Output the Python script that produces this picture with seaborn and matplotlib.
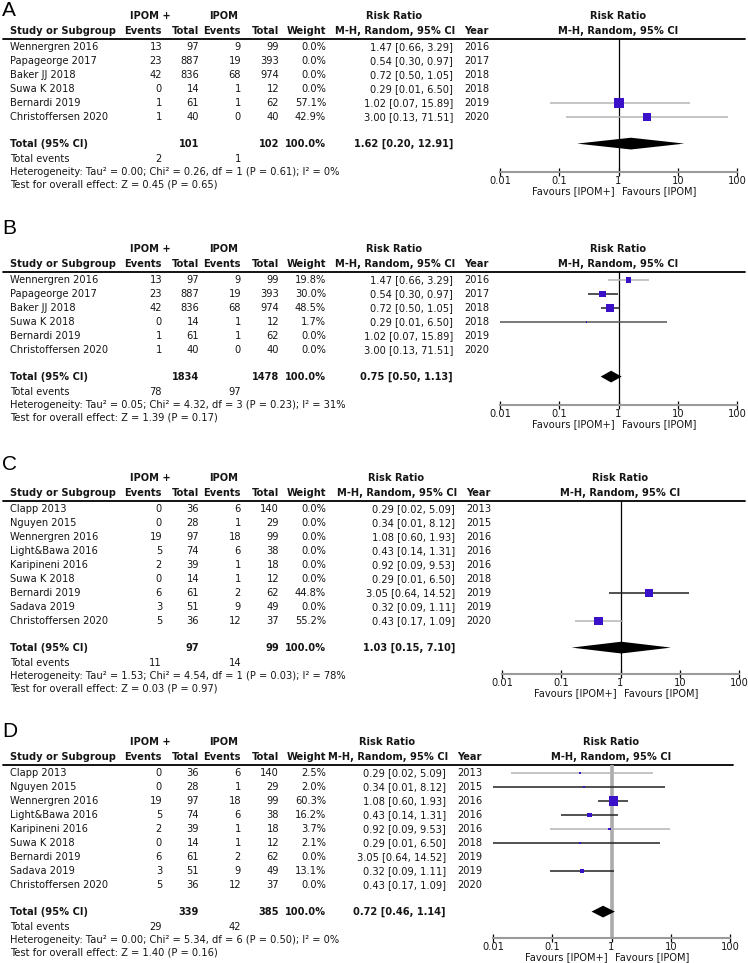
import numpy as np
import pandas as pd
import matplotlib
matplotlib.use("Agg")
import matplotlib.pyplot as plt
import seaborn as sns

# Studies shared by panels A and B
studies_ab = ["Wennergren 2016", "Papageorge 2017", "Baker JJ 2018", "Suwa K 2018",
              "Bernardi 2019", "Christoffersen 2020"]
years_ab = [2016, 2017, 2018, 2018, 2019, 2020]
ev_plus_ab = [13, 23, 42, 0, 1, 1]
n_plus_ab = [97, 887, 836, 14, 61, 40]
ev_ipom_ab = [9, 19, 68, 1, 1, 0]
n_ipom_ab = [99, 393, 974, 12, 62, 40]
rr_ab = [1.47, 0.54, 0.72, 0.29, 1.02, 3.00]
lo_ab = [0.66, 0.30, 0.50, 0.01, 0.07, 0.13]
hi_ab = [3.29, 0.97, 1.05, 6.50, 15.89, 71.51]
weight_a = [0.0, 0.0, 0.0, 0.0, 57.1, 42.9]
weight_b = [19.8, 30.0, 48.5, 1.7, 0.0, 0.0]

# Studies shared by panels C and D
studies_cd = ["Clapp 2013", "Nguyen 2015", "Wennergren 2016", "Light&Bawa 2016",
              "Karipineni 2016", "Suwa K 2018", "Bernardi 2019", "Sadava 2019",
              "Christoffersen 2020"]
years_cd = [2013, 2015, 2016, 2016, 2016, 2018, 2019, 2019, 2020]
ev_plus_cd = [0, 0, 19, 5, 2, 0, 6, 3, 5]
n_plus_cd = [36, 28, 97, 74, 39, 14, 61, 51, 36]
ev_ipom_cd = [6, 1, 18, 6, 1, 1, 2, 9, 12]
n_ipom_cd = [140, 29, 99, 38, 18, 12, 62, 49, 37]
rr_cd = [0.29, 0.34, 1.08, 0.43, 0.92, 0.29, 3.05, 0.32, 0.43]
lo_cd = [0.02, 0.01, 0.60, 0.14, 0.09, 0.01, 0.64, 0.09, 0.17]
hi_cd = [5.09, 8.12, 1.93, 1.31, 9.53, 6.50, 14.52, 1.11, 1.09]
weight_c = [0.0, 0.0, 0.0, 0.0, 0.0, 0.0, 44.8, 0.0, 55.2]
weight_d = [2.5, 2.0, 60.3, 16.2, 3.7, 2.1, 0.0, 13.1, 0.0]

# Pooled results, panels A-D
panel_labels = ["A", "B", "C", "D"]
total_n_plus = [101, 1834, 97, 339]
total_n_ipom = [102, 1478, 99, 385]
total_ev_plus = [2, 78, 11, 29]
total_ev_ipom = [1, 97, 14, 42]
total_rr = [1.62, 0.75, 1.03, 0.72]
total_lo = [0.20, 0.50, 0.15, 0.46]
total_hi = [12.91, 1.13, 7.10, 1.14]
tau2 = [0.00, 0.05, 1.53, 0.00]
chi2 = [0.26, 4.32, 4.54, 5.34]
dfree = [1, 3, 1, 6]
p_het = [0.61, 0.23, 0.03, 0.50]
i2 = [0, 31, 78, 0]
z_val = [0.45, 1.39, 0.03, 1.40]
p_z = [0.65, 0.17, 0.97, 0.16]

# layout (pixels)
W, H = 748, 963
RS = 14
ROW0 = [47, 280, 509, 773]
LETTER_BASE = [16, 234, 470, 737]
DX = [0, 0, 2, -7]
AXIS_GAP = [28, 28, 26, 26]
SQ = "#3a10c8"
LG, DG = "#b4b4b4", "#222222"
CI_SHADE = [
    [DG, DG, DG, DG, LG, LG],
    [LG, DG, DG, "#555555", DG, DG],
    [DG] * 6 + [DG, DG, LG],
    [LG, DG, DG, DG, LG, DG, DG, DG, DG],
]

sns.set_theme(style="white")
plt.rcParams["font.family"] = ["DejaVu Sans"]
FS = 7.1
TXT = "#151515"

fig = plt.figure(figsize=(W / 100, H / 100), dpi=100)
bg = fig.add_axes([0, 0, 1, 1])
bg.set_xlim(0, W)
bg.set_ylim(H, 0)
bg.axis("off")


def t(x, y, s, ha="left", bold=False, size=FS):
    bg.text(x, y, s, ha=ha, va="center", fontsize=size, color=TXT,
            fontweight="bold" if bold else "normal")


def draw_panel(k, studies, years, ev1, n1, ev2, n2, rr, lo, hi, weight):
    r0 = ROW0[k]
    dx = DX[k]
    n = len(studies)
    line_y = r0 - 8
    total_y = r0 + (n + 0.9) * RS
    axis_y = total_y + AXIS_GAP[k]
    rr_x = 453 + dx
    yr_x = 464 + dx
    fx0, fx1 = 500 + dx, 737 + dx
    one_x = (fx0 + fx1) / 2

    bg.text(2, LETTER_BASE[k], panel_labels[k], ha="left", va="baseline", fontsize=15,
            family="Liberation Sans", color="black")

    # headers
    t(130, r0 - 31, "IPOM +", bold=True)
    t(209, r0 - 31, "IPOM", bold=True)
    t(394 + dx, r0 - 31, "Risk Ratio", ha="center", bold=True)
    t(one_x, r0 - 31, "Risk Ratio", ha="center", bold=True)
    t(10, r0 - 16, "Study or Subgroup", bold=True)
    for x, s in [(162, "Events"), (199, "Total"), (241, "Events"), (279, "Total"),
                 (326, "Weight"), (rr_x + 2, "M-H, Random, 95% CI")]:
        t(x, r0 - 16, s, ha="right", bold=True)
    t(yr_x, r0 - 16, "Year", bold=True)
    t(one_x, r0 - 16, "M-H, Random, 95% CI", ha="center", bold=True)
    bg.plot([3, 745 if k < 3 else 733], [line_y, line_y], color="black", lw=1.3)

    # study rows
    for i in range(n):
        y = r0 + i * RS
        t(10, y, studies[i])
        t(162, y, str(ev1[i]), ha="right")
        t(199, y, str(n1[i]), ha="right")
        t(241, y, str(ev2[i]), ha="right")
        t(279, y, str(n2[i]), ha="right")
        t(326, y, f"{weight[i]:.1f}%", ha="right")
        t(rr_x, y, f"{rr[i]:.2f} [{lo[i]:.2f}, {hi[i]:.2f}]", ha="right")
        t(yr_x, y, str(years[i]))

    # totals
    t(10, total_y, "Total (95% CI)", bold=True)
    t(199, total_y, str(total_n_plus[k]), ha="right", bold=True)
    t(279, total_y, str(total_n_ipom[k]), ha="right", bold=True)
    t(326, total_y, "100.0%", ha="right", bold=True)
    t(rr_x, total_y, f"{total_rr[k]:.2f} [{total_lo[k]:.2f}, {total_hi[k]:.2f}]",
      ha="right", bold=True)
    t(10, total_y + 15, "Total events")
    t(162, total_y + 15, str(total_ev_plus[k]), ha="right")
    t(241, total_y + 15, str(total_ev_ipom[k]), ha="right")
    t(10, total_y + 28,
      f"Heterogeneity: Tau\u00b2 = {tau2[k]:.2f}; Chi\u00b2 = {chi2[k]:.2f}, "
      f"df = {dfree[k]} (P = {p_het[k]:.2f}); I\u00b2 = {i2[k]}%")
    t(10, total_y + 41, f"Test for overall effect: Z = {z_val[k]:.2f} (P = {p_z[k]:.2f})")

    # forest plot
    ax = fig.add_axes([fx0 / W, 1 - axis_y / H, (fx1 - fx0) / W, (axis_y - line_y) / H])
    ax.set_xscale("log")
    ax.set_xlim(0.01, 100)
    ax.set_ylim((axis_y - r0) / RS, (line_y - r0) / RS)
    ax.patch.set_alpha(0)
    for side in ["top", "left", "right"]:
        ax.spines[side].set_visible(False)
    ax.spines["bottom"].set_color("#9a9a9a")
    ax.spines["bottom"].set_linewidth(1.5)
    ax.set_yticks([])
    ax.set_xticks([0.01, 0.1, 1, 10, 100])
    ax.set_xticklabels(["0.01", "0.1", "1", "10", "100"])
    ax.xaxis.set_minor_locator(matplotlib.ticker.NullLocator())
    ax.tick_params(axis="x", direction="inout", length=6, width=0.9, color="black",
                   labelsize=FS, labelcolor=TXT, pad=0.5, bottom=True)
    if k < 3:
        ax.axvline(1, color="black", lw=0.9, zorder=1)
    else:
        ax.axvline(1, color="#ababab", lw=2.6, zorder=1)

    df = pd.DataFrame({"rr": rr, "lo": lo, "hi": hi, "w": weight,
                       "row": np.arange(n), "shade": CI_SHADE[k]})
    df = df[df["w"] > 0]
    ax.hlines(df["row"], df["lo"], df["hi"], colors=df["shade"], lw=1.1, zorder=2)
    sns.scatterplot(data=df, x="rr", y="row", marker="s", s=0.75 * df["w"].values,
                    color=SQ, linewidth=0, ax=ax, legend=False, zorder=3)
    ax.set_xlabel("")
    ax.set_ylabel("")

    ty = n + 0.9
    h = 0.42
    ax.fill([total_lo[k], total_rr[k], total_hi[k], total_rr[k]],
            [ty, ty - h, ty, ty + h], color="black", lw=0, zorder=4)

    t(one_x - 4, axis_y + 19, "Favours [IPOM+]", ha="right")
    t(one_x + 4, axis_y + 19, "Favours [IPOM]", ha="left")


draw_panel(0, studies_ab, years_ab, ev_plus_ab, n_plus_ab, ev_ipom_ab, n_ipom_ab,
           rr_ab, lo_ab, hi_ab, weight_a)
draw_panel(1, studies_ab, years_ab, ev_plus_ab, n_plus_ab, ev_ipom_ab, n_ipom_ab,
           rr_ab, lo_ab, hi_ab, weight_b)
draw_panel(2, studies_cd, years_cd, ev_plus_cd, n_plus_cd, ev_ipom_cd, n_ipom_cd,
           rr_cd, lo_cd, hi_cd, weight_c)
draw_panel(3, studies_cd, years_cd, ev_plus_cd, n_plus_cd, ev_ipom_cd, n_ipom_cd,
           rr_cd, lo_cd, hi_cd, weight_d)

fig.savefig("out.png", dpi=100, facecolor="white")
